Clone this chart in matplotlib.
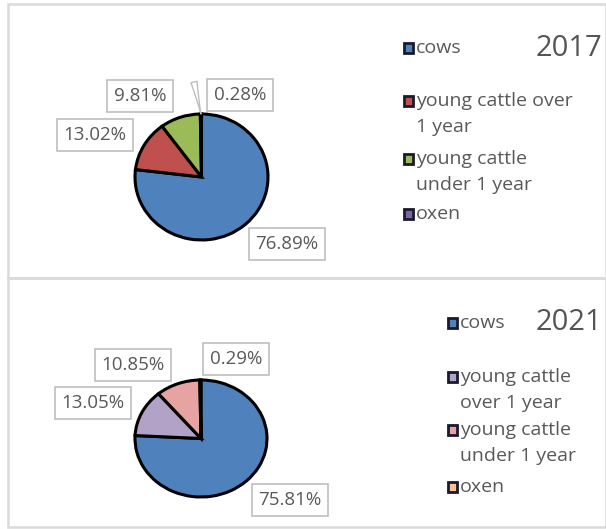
import matplotlib.pyplot as plt
import numpy as np
from matplotlib.patches import Rectangle

plt.rcParams['font.family'] = ['Open Sans', 'DejaVu Sans']

categories = ["cows", "young cattle over 1 year", "young cattle under 1 year", "oxen"]
years = ["2017", "2021"]
shares_2017 = [76.89, 13.02, 9.81, 0.28]
shares_2021 = [75.81, 13.05, 10.85, 0.29]
legend_2017 = ["cows", "young cattle over\n1 year", "young cattle\nunder 1 year", "oxen"]
legend_2021 = ["cows", "young cattle\nover 1 year", "young cattle\nunder 1 year", "oxen"]
colors_2017 = ["#4F81BD", "#C0504D", "#9BBB59", "#8064A2"]
colors_2021 = ["#4F81BD", "#B3A2C7", "#E6A3A1", "#FAC090"]

W, H = 606, 529
TXT = "#595959"

fig = plt.figure(figsize=(W / 100, H / 100), dpi=100)
bg = fig.add_axes([0, 0, 1, 1])
bg.set_xlim(0, W)
bg.set_ylim(H, 0)
bg.axis("off")

# panel frames
for top, bottom in [(4, 278), (278, 527)]:
    bg.add_patch(Rectangle((8, top), W - 8, bottom - top, fill=False,
                           ec="#DADADA", lw=1.8))


def px_axes(x0, y0, x1, y1):
    return fig.add_axes([x0 / W, 1 - y1 / H, (x1 - x0) / W, (y1 - y0) / H])


panels = [
    dict(values=shares_2017, colors=colors_2017, legend=legend_2017, year=years[0],
         pie_box=(135, 114, 268, 240),
         label_pos=[(287, 244), (95, 135), (140, 96), (240, 95)],
         legend_x=404, legend_y=[48, 101, 159, 214]),
    dict(values=shares_2021, colors=colors_2021, legend=legend_2021, year=years[1],
         pie_box=(135, 380, 267, 497),
         label_pos=[(290, 500), (93, 403), (133, 365), (236, 359)],
         legend_x=448, legend_y=[323, 377, 430, 487]),
]

for i, p in enumerate(panels):
    ax = px_axes(*p["pie_box"])
    wedges, _ = ax.pie(p["values"], colors=p["colors"], startangle=90,
                       counterclock=False, radius=1,
                       wedgeprops=dict(edgecolor="black", linewidth=2.2))
    for w in wedges:
        w.set_clip_on(False)
    ax.set_aspect("auto")
    ax.set_xlim(-1, 1)
    ax.set_ylim(-1, 1)
    ax.axis("off")

    # percentage labels in boxes
    for v, (lx, ly) in zip(p["values"], p["label_pos"]):
        bg.text(lx, ly, f"{v:.2f}%", fontsize=13.5, color=TXT, ha="center",
                va="center",
                bbox=dict(boxstyle="square,pad=0.35", fc="white",
                          ec="#BFBFBF", lw=1.2))

    # callout for the tiny oxen slice (2017)
    if i == 0:
        vals = np.array(p["values"])
        mid = 90 - 360 * (vals[:-1].sum() + vals[-1] / 2) / vals.sum()
        tip = (np.cos(np.radians(mid)), np.sin(np.radians(mid)))
        ax.annotate("", xy=tip, xycoords="data",
                    xytext=(194, 82), textcoords=bg.transData,
                    arrowprops=dict(arrowstyle="wedge,tail_width=0.45,shrink_factor=0.4",
                                    fc="white", ec="#BFBFBF", lw=1.0,
                                    shrinkA=0, shrinkB=0),
                    annotation_clip=False)

    # legend
    lx = p["legend_x"]
    for lab, col, ly in zip(p["legend"], p["colors"], p["legend_y"]):
        bg.add_patch(Rectangle((lx, ly - 5), 9, 10, fc=col, ec="#1a1a2e", lw=2))
        for k, line in enumerate(lab.split("\n")):
            bg.text(lx + 12, ly + 26 * k, line, fontsize=14, color=TXT,
                    ha="left", va="center")

    bg.text(602, p["legend_y"][0], p["year"], fontsize=21, color="#555555",
            ha="right", va="center")

fig.savefig("out.png", dpi=100)
